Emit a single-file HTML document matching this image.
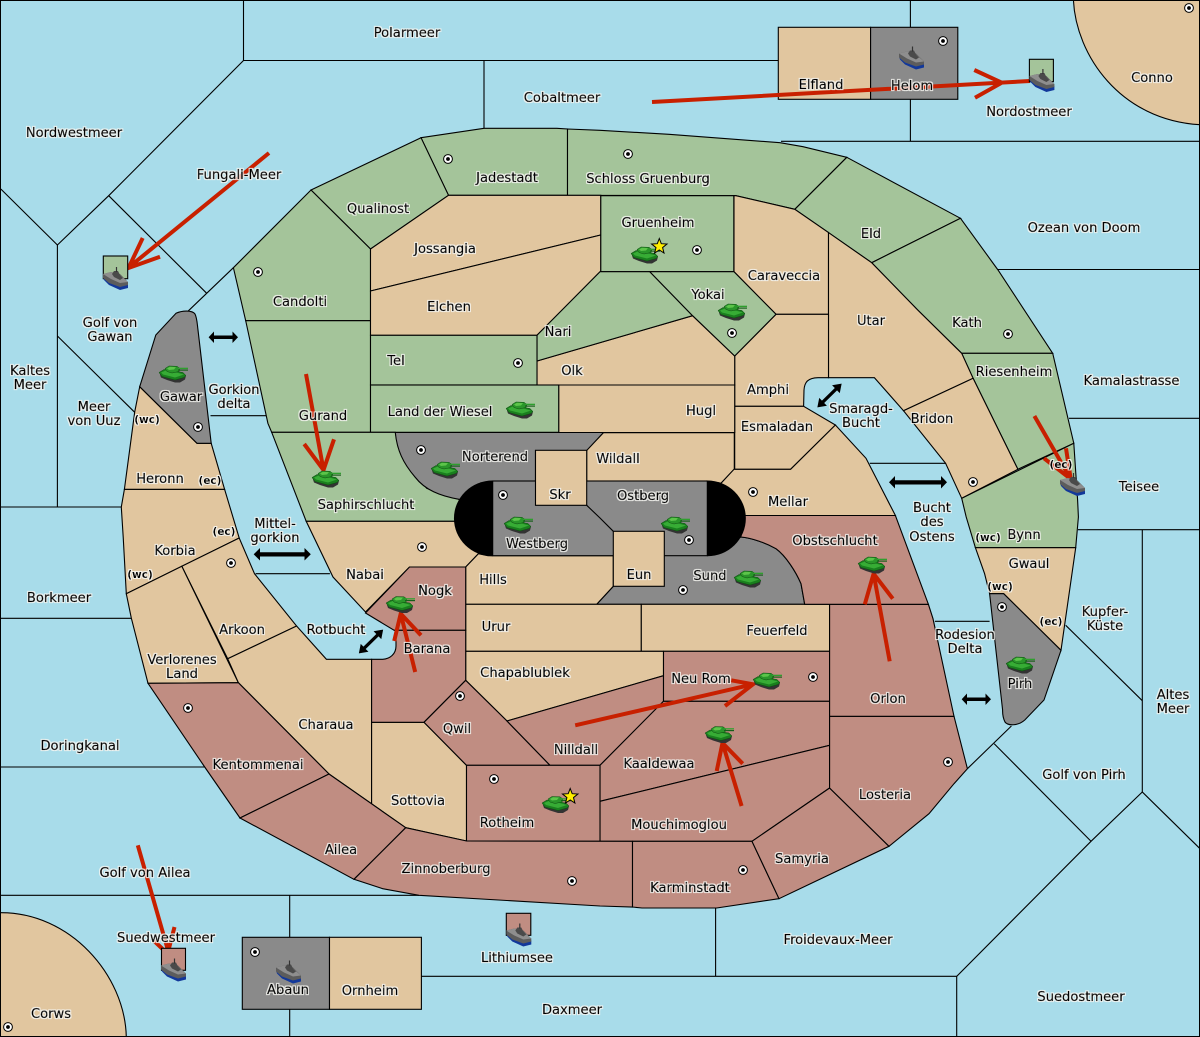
<!DOCTYPE html>
<html><head><meta charset="utf-8"><style>
html,body{margin:0;padding:0;background:#a8dcea}
svg{display:block}
.l{stroke:#000;stroke-width:1.1;stroke-linejoin:miter}
.t{fill:#e1c69f}.g{fill:#a4c49a}.r{fill:#c08d82}.k{fill:#8a8a8a}
.s{fill:none;stroke:#000;stroke-width:1.1}
.a{fill:none;stroke:#c82000;stroke-width:4}
.b{fill:#000;stroke:none}
text{font-family:"DejaVu Sans","Liberation Sans",sans-serif;font-size:13.1px;text-anchor:middle;fill:#000;stroke:#000;stroke-width:.35}
text.m{font-size:10.5px;font-weight:bold;stroke-width:0}
</style></head><body>
<svg xmlns="http://www.w3.org/2000/svg" width="1200" height="1037" viewBox="0 0 1200 1037">
<defs>
<filter id="halo" x="0" y="0" width="1200" height="1037" filterUnits="userSpaceOnUse">
<feMorphology in="SourceAlpha" operator="dilate" radius="1" result="d"/>
<feFlood flood-color="#f6f6f2" flood-opacity=".85"/>
<feComposite in2="d" operator="in" result="h"/>
<feMerge><feMergeNode in="h"/><feMergeNode in="SourceGraphic"/></feMerge>
</filter>
<g id="tank">
<path d="M1,9 L2,12 L8,14.5 L16,17 L21,17 L26,14 L27,10 Z" fill="#333"/>
<path d="M0,7 L5,4 L24,7 L27,10 L25,12 L16,14.5 L3,11 Z" fill="#1a7f1e" stroke="#0e4d10" stroke-width=".5"/>
<path d="M2,7 L8,4.5 L25,9 L16,12 L4,9 Z" fill="#37ac35"/>
<path d="M6,3 L10,0.5 L18,0.8 L21,3 L20,6 L13,7.5 L8,6 Z" fill="#2a962a" stroke="#0e4d10" stroke-width=".5"/>
<path d="M8,3 L11,1.2 L17,1.6 L15,4 L10,4.5 Z" fill="#5cc44a"/>
<rect x="19" y="2.2" width="10" height="1.3" fill="#2f9f2e"/>
<rect x="19" y="4" width="10" height="1.2" fill="#175f1a"/>
</g>
<g id="ship">
<path d="M0,10 L1,13 L6,18 L17,23 L25,21 L25,17 L15,19 L5,14 Z" fill="#12389a"/>
<path d="M0,7 L8,5 L17,7 L25,15 L25,18 L17,20 L6,16 L0,11 Z" fill="#5c5c5c"/>
<path d="M0,7 L8,5 L17,8 L25,15 L17,16 L8,12 Z" fill="#8e8e8e"/>
<path d="M9,7 L11,4 L15,4 L17,8 L20,11 L17,13 L11,10 Z" fill="#4a4a4a"/>
<path d="M13.5,0 V5" stroke="#333" stroke-width="1.2"/>
</g>
<g id="sc">
<circle r="4.4" fill="#fff" stroke="#000" stroke-width="1"/><circle r="1.9" fill="#000"/>
</g>
<path id="dbl" d="M-17,0 L-9,-5.5 V-1.6 H9 V-5.5 L17,0 L9,5.5 V1.6 H-9 V5.5 Z"/>
</defs>
<rect width="1200" height="1037" fill="#a8dcea"/>
<g class="s">
<path d="M243.5,0 V60.5 H778"/>
<path d="M243.5,60.5 L108.7,195.7 L57.4,245 L0.8,189"/>
<path d="M57.4,245 V507"/>
<path d="M108.7,195.7 L206.7,293.3"/>
<path d="M187.5,311.7 L233.4,267.7"/>
<path d="M57.4,336 L134.7,412.3"/>
<path d="M0,507 H121.3"/>
<path d="M484,60.5 V128.3"/>
<path d="M910.4,0 V27 M910.4,99 V141.3"/>
<path d="M781,141.3 H1200"/>
<path d="M998,269.5 H1200"/>
<path d="M1069,418.3 H1200"/>
<path d="M1078,529.7 H1200"/>
<path d="M1142.3,529.7 V792"/>
<path d="M1065.7,625.3 L1142.3,700.7"/>
<path d="M1200,848.7 L1142.3,792 L1091,841.3 L956.7,976.3 V1037"/>
<path d="M994.2,743.7 L1091,841.3"/>
<path d="M1011.4,726 L967.4,768.7"/>
<path d="M715.6,908 V976.3 M421.4,976.3 H956.7"/>
<path d="M0,895.3 H419 M289.7,895.3 V937.3 M289.7,1009.3 V1037"/>
<path d="M0,767 H204.7 M0,618.3 H131.3"/>
<path d="M210.5,415.7 H266 M869.8,463.3 H945.6 M255.6,573.7 H329.9 M934.9,621.3 H989.6"/>
</g>
<path class="t" d="M1073.4,0 C1076,55 1120,120 1200,124.7 V0 Z"/>
<path class="s" d="M1073.4,0 C1076,55 1120,120 1200,124.7"/>
<path class="t" d="M0,912.7 C70,912 125,975 126.3,1037 H0 Z"/>
<path class="s" d="M0,912.7 C70,912 125,975 126.3,1037"/>
<!-- north green -->
<polygon class="l g" points="421,137.7 484,128.3 556.8,128.3 567.5,129 567.5,195.3 448.5,195.3"/>
<polygon class="l g" points="567.5,129 600,130.3 669,134.3 780,142.7 803,146.7 846.8,157.3 794.8,209.3 735.9,195.7 567.5,195.3"/>
<polygon class="l g" points="311,190 421,137.7 448.5,195.3 370.5,249"/>
<polygon class="l g" points="311,190 370.5,249 370.5,320.7 245.7,320.7 233.4,267.7"/>
<polygon class="l g" points="245.7,320.7 370.5,320.7 370.5,432.3 271.7,432.3 267.9,423.3"/>
<polygon class="l g" points="846.8,157.3 960.5,218.3 871.7,262.7 794.8,209.3"/>
<polygon class="l g" points="960.5,218.3 998,270 1052.7,353.3 961.7,353.3 917.7,310 871.7,262.7"/>
<polygon class="l g" points="961.7,353.3 1052.7,353.3 1073.8,443.3 1017.9,469.3 973.1,378.3"/>
<polygon class="l g" points="961.7,498.3 1073.8,443.3 1077.6,500 1078.4,517 1075.7,547.7 975.4,547.7 966.2,517"/>
<!-- tan -->
<polygon class="l t" points="448.5,195.3 600.8,195.3 600.8,235 370.5,291 370.5,249"/>
<polygon class="l t" points="370.5,291 600.8,235 600.8,271.7 537,335.3 370.5,335.3"/>
<polygon class="l t" points="735.9,195.7 794.8,209.3 828.5,232.6 828.5,314.3 776,314.3 734,271.7 734,195.7"/>
<polygon class="l t" points="828.5,232.6 871.7,262.7 917.7,310 961.7,353.3 973.1,378.3 903.5,410.7 874.4,377.7 828.5,377.7"/>
<polygon class="l t" points="973.1,378.3 1017.9,469.3 961.7,498.3 945.6,463.3 903.5,410.7"/>
<path class="l t" d="M734.7,356 L776,314.3 H828.5 V377.7 H818 C808,378 804.5,382 804,390 L803.6,406.3 H734.7 Z"/>
<polygon class="l t" points="734.7,406.3 803.6,406.3 835.4,425 790.6,469.3 734.7,469.3"/>
<polygon class="l t" points="537,361 692.6,315.7 734.7,356 734.7,385 537,385"/>
<polygon class="l t" points="558.7,385 734.7,385 734.7,432.5 558.7,432.5"/>
<polygon class="l t" points="603.3,432.7 734.3,432.7 734.3,469.3 721,483.3 707,481 586.7,481 586.7,450"/>
<polygon class="l t" points="707,481 721,483.3 734,469.3 790.6,469.3 835.4,425 866,458.3 895.4,515.5 707,515.5"/>
<!-- green inner -->
<rect class="l g" x="600.8" y="195.7" width="133" height="76"/>
<polygon class="l g" points="537,335.3 600,271.7 649.8,271.7 692.6,315.7 537,361"/>
<polygon class="l g" points="649.8,271.7 734,271.7 776,314.3 734.7,356 692.6,315.7"/>
<rect class="l g" x="370.5" y="335.3" width="166.5" height="49.7"/>
<rect class="l g" x="370.5" y="385" width="188.2" height="47.3"/>
<polygon class="l g" points="271.7,432.3 395.3,432.3 398,446.7 405.7,463.3 426.7,488.3 459,499.3 480,510 470,521.3 306.2,521.3"/>
<!-- gray inner -->
<path class="l k" d="M395.3,432.5 H603.5 L586.7,450.5 H535.5 V481 H492 L470,499.3 H459 C440,496 425,490 415,477 C403,463 397,450 395.3,432.5 Z"/>
<path class="l k" d="M613.4,586.3 L664.3,555.3 H711 L740.8,537 C752,538 766,543 776,548.7 C786,556 796,572 801,583.7 L804.7,604.3 H596.7 Z"/>
<!-- centre south tan -->
<polygon class="l t" points="306.2,521.3 470,521.3 490,555 478.4,553.7 465.7,567 409.5,567 365.5,612 333,577"/>
<polygon class="l t" points="465.7,567 478.4,553.7 488,555.7 613.3,555.7 613.3,586.3 596.7,604.3 465.7,604.3"/>
<rect class="k" x="492.7" y="481" width="214.6" height="74.7" stroke="#000" stroke-width="1.1"/>
<path class="s" d="M586.7,505.3 L600,518 L613.3,531.3"/>
<rect class="l t" x="465.7" y="604.3" width="175.6" height="47"/>
<rect class="l t" x="641.3" y="604.3" width="188.3" height="47"/>
<polygon class="l t" points="465.7,651.3 663.5,651.3 663.5,675.7 507,721 465.7,680.3"/>
<polygon class="l t" points="124.4,489.3 224.6,489.3 239.2,538 126.3,593.7 123.2,537 121.3,507"/>
<polygon class="l t" points="139.7,386.7 197,443.3 211.2,443.3 224.6,489.3 124.4,489.3 134.7,412"/>
<polygon class="l t" points="181.8,566.3 239.2,538 254.5,573.7 296.6,626 227.7,658.7"/>
<polygon class="l t" points="126.3,593.7 181.8,566.3 238.4,682.7 148,683.3 131.3,618"/>
<polygon class="l t" points="227.7,658.7 296.6,626 326.4,659.3 371.6,659.3 371.6,803.8 329,774 238.4,682.7"/>
<polygon class="l t" points="371.6,722.3 424,722.3 466.5,765.3 466.5,841 405.7,827.7 371.6,803.8"/>
<polygon class="l t" points="975.4,547.7 1075.7,547.7 1061,650.3 1003.7,593.7 989.6,593.7 984.6,573.7"/>
<!-- gray coast -->
<path class="l k" d="M139.7,386.7 L155.8,335 L176,313.3 C182,310.5 192,310 195,314 C197,318 197,322 198,330 L211.2,443.3 H197 Z"/>
<path class="l k" d="M989.6,593.7 H1003.7 L1061,650.3 L1044,700 L1024.8,720 C1018,726 1008,726 1005,722 C1003,718 1002.5,714 1002.6,710 Z"/>
<!-- red -->
<polygon class="l r" points="409.5,567 465.7,567 465.7,630.3 394.2,630.3 365.5,613"/>
<path class="l r" d="M394.2,630.3 H465.7 V680.3 L424,722.3 H371.6 V659.3 H382.7 C390,659 396,654 396,646 V630 Z"/>
<polygon class="l r" points="465.7,680.3 507,721 550,765.3 466.5,765.3 424,722.3"/>
<polygon class="l r" points="507,721 663.5,675.7 663.5,701.3 657.4,707.7 600,765.3 550,765.3"/>
<rect class="l r" x="663.5" y="651.3" width="166.1" height="50"/>
<polygon class="l r" points="663.5,701.3 829.6,701.3 829.6,745.3 600,801.3 600,765.3"/>
<polygon class="l r" points="600,801.3 829.6,745.3 829.6,788 752,841.3 600,841.3"/>
<rect class="l r" x="466.5" y="765.3" width="133.5" height="76"/>
<polygon class="l r" points="148,683.3 238.4,682.7 329,774 240,818 204.7,767"/>
<polygon class="l r" points="240,818 329,774 405.7,827.7 354,879.3"/>
<polygon class="l r" points="405.7,827.7 466.5,841 632.5,841.3 632.5,907 600,906 419,895.3 382.7,888.7 354,879.3"/>
<polygon class="l r" points="632.5,841.3 752,841.3 779,898.7 716.7,908 642,908 632.5,907"/>
<polygon class="l r" points="752,841.3 829.6,788 889,846.3 779,898.7"/>
<polygon class="l r" points="829.6,716.3 954,716.3 967.4,768.7 954,783.7 929,813.7 889,846.3 829.6,788"/>
<polygon class="l r" points="829.6,604.3 928.4,604.3 933,618.7 954,716.3 829.6,716.3"/>
<path class="l r" d="M745,515.5 H895.4 L928.4,604.3 H804.7 L801,583.7 C796,572 786,556 776,548.7 C766,543 752,538 740.8,537 Z"/>
<!-- black ends and inner provinces -->
<path class="b" d="M492.7,480.5 A38.7,37.8 0 0 0 492.7,556.2 Z"/>
<path class="b" d="M707.3,480.5 A38.5,37.8 0 0 1 707.3,556.2 Z"/>
<rect class="l t" x="535.5" y="450.3" width="51.2" height="55"/>
<rect class="l t" x="613.3" y="531.3" width="51" height="55"/>
<!-- boxes -->
<rect class="l t" x="778.3" y="27.3" width="92.3" height="72"/>
<rect class="l k" x="870.6" y="27.3" width="87.2" height="72"/>
<rect class="l k" x="242.3" y="937.3" width="87.2" height="72"/>
<rect class="l t" x="329.5" y="937.3" width="91.9" height="72"/>
<!-- arrows -->
<g class="a">
<path d="M269,153 L128,268 M142.7,238 L128.5,268 L160,256.7"/>
<path d="M306,374 L323.5,470 M304.2,444 L323.5,470 L334,439.3"/>
<path d="M652,102 L1030,81 M974.3,70 L1001.8,82.7 L975,97.7"/>
<path d="M1034.4,416 L1070.7,479 M1044,458.3 L1070.7,479 L1066,448.3"/>
<path d="M137.8,845.3 L167.6,949 M154.2,941 L162.6,949 M174.5,927 L168.8,949"/>
<path d="M415.2,672 L400.7,613.7 M394.2,641 L400.7,613.7 L421,635.3"/>
<path d="M889.7,661.3 L873.6,573.7 M864.8,604.3 L873.6,573.7 L892.8,598.7"/>
<path d="M575.2,725.3 L753,684.3 M731.3,680.3 L753,684.3 L725,706"/>
<path d="M741.6,806 L722.5,743 M716.7,771 L722.5,743 L742.7,763.7"/>
</g>
<!-- fleet boxes -->
<rect class="l g" x="1029.4" y="59.3" width="24" height="22.4"/>
<rect class="l g" x="103.3" y="256" width="24.4" height="22.7"/>
<rect class="l r" x="161.5" y="948.3" width="24" height="22"/>
<rect class="l r" x="506.3" y="913.3" width="24.5" height="22"/>
<!-- double arrows -->
<g class="b">
<path d="M208.6,337.3 L214,331.5 V335.5 H232.5 V331.5 L238,337.3 L232.5,343 V339 H214 V343 Z"/>
<path d="M889,482.3 L895,476 V480.3 H941 V476 L947,482.3 L941,488.5 V484.5 H895 V488.5 Z"/>
<path d="M253.7,554.3 L260,548 V552.3 H304.5 V548 L310.8,554.3 L304.5,560.5 V556.5 H260 V560.5 Z"/>
<path d="M961.7,699.3 L967,693.5 V697.5 H985.5 V693.5 L991,699.3 L985.5,705 V701 H967 V705 Z"/>
<use href="#dbl" transform="translate(371,641.5) rotate(-44.4)"/>
<use href="#dbl" transform="translate(829.5,395.5) rotate(-44.4)"/>
</g>
<!-- ships -->
<use href="#ship" x="103" y="267"/>
<use href="#ship" x="1029.4" y="69"/>
<use href="#ship" x="899" y="46.5"/>
<use href="#ship" x="1060" y="473"/>
<use href="#ship" x="161" y="958.5"/>
<use href="#ship" x="506.3" y="923.5"/>
<use href="#ship" x="276" y="960.5"/>
<!-- tanks -->
<use href="#tank" x="159" y="365.5"/>
<use href="#tank" x="506" y="401.5"/>
<use href="#tank" x="312" y="470.5"/>
<use href="#tank" x="431" y="461.5"/>
<use href="#tank" x="631" y="246.5"/>
<use href="#tank" x="718" y="303.5"/>
<use href="#tank" x="504" y="516.5"/>
<use href="#tank" x="661" y="516.5"/>
<use href="#tank" x="734" y="570.5"/>
<use href="#tank" x="858" y="556.5"/>
<use href="#tank" x="386" y="596"/>
<use href="#tank" x="1006" y="656.5"/>
<use href="#tank" x="753" y="672.5"/>
<use href="#tank" x="705" y="726"/>
<use href="#tank" x="542" y="796"/>
<!-- stars -->
<polygon points="659.3,238.5 661.3,243.7 667,244 662.6,247.6 664,253 659.3,250 654.6,253 656,247.6 651.6,244 657.3,243.7" fill="#ffee00" stroke="#000" stroke-width="1"/>
<polygon points="570.2,788.5 572.2,793.7 577.9,794 573.5,797.6 574.9,803 570.2,800 565.5,803 566.9,797.6 562.5,794 568.2,793.7" fill="#ffee00" stroke="#000" stroke-width="1"/>
<!-- supply centers -->
<use href="#sc" x="943" y="41"/><use href="#sc" x="1189" y="8"/><use href="#sc" x="448" y="159"/><use href="#sc" x="628" y="154"/>
<use href="#sc" x="697" y="250"/><use href="#sc" x="258" y="272"/><use href="#sc" x="518" y="363"/><use href="#sc" x="732" y="333"/>
<use href="#sc" x="1008" y="334"/><use href="#sc" x="198" y="427"/><use href="#sc" x="421" y="450"/><use href="#sc" x="503" y="495"/>
<use href="#sc" x="753" y="492"/><use href="#sc" x="973" y="482"/><use href="#sc" x="689" y="540"/><use href="#sc" x="422" y="547"/>
<use href="#sc" x="231" y="563"/><use href="#sc" x="683" y="590"/><use href="#sc" x="1002" y="607"/><use href="#sc" x="813" y="677"/>
<use href="#sc" x="460" y="696"/><use href="#sc" x="188" y="708"/><use href="#sc" x="948" y="762"/><use href="#sc" x="494" y="779"/>
<use href="#sc" x="743" y="870"/><use href="#sc" x="572" y="881"/><use href="#sc" x="255" y="952"/><use href="#sc" x="8" y="1027"/>
<!-- labels -->
<g filter="url(#halo)">
<text x="407" y="37">Polarmeer</text>
<text x="562" y="102">Cobaltmeer</text>
<text x="74" y="137">Nordwestmeer</text>
<text x="239" y="179">Fungali-Meer</text>
<text x="507" y="182">Jadestadt</text>
<text x="648" y="183">Schloss Gruenburg</text>
<text x="378" y="213">Qualinost</text>
<text x="821" y="89">Elfland</text>
<text x="912" y="90">Helom</text>
<text x="1152" y="82">Conno</text>
<text x="1029" y="116">Nordostmeer</text>
<text x="658" y="227">Gruenheim</text>
<text x="871" y="238">Eld</text>
<text x="1084" y="232">Ozean von Doom</text>
<text x="445" y="253">Jossangia</text>
<text x="784" y="280">Caraveccia</text>
<text x="708" y="299">Yokai</text>
<text x="300" y="306">Candolti</text>
<text x="449" y="311">Elchen</text>
<text x="871" y="325">Utar</text>
<text x="967" y="327">Kath</text>
<text x="110" y="327">Golf von</text>
<text x="110" y="341">Gawan</text>
<text x="558" y="336">Nari</text>
<text x="396" y="365">Tel</text>
<text x="572" y="375">Olk</text>
<text x="30" y="375">Kaltes</text>
<text x="30" y="389">Meer</text>
<text x="1014" y="376">Riesenheim</text>
<text x="1131.5" y="385">Kamalastrasse</text>
<text x="768" y="394">Amphi</text>
<text x="234" y="394">Gorkion</text>
<text x="234" y="408">delta</text>
<text x="181" y="401">Gawar</text>
<text x="701" y="415">Hugl</text>
<text x="440" y="416">Land der Wiesel</text>
<text x="94" y="411">Meer</text>
<text x="94" y="425">von Uuz</text>
<text x="323" y="420">Gurand</text>
<text x="861" y="413">Smaragd-</text>
<text x="861" y="427">Bucht</text>
<text x="932" y="423">Bridon</text>
<text class="m" x="147" y="423">(wc)</text>
<text x="777" y="431">Esmaladan</text>
<text x="495" y="461">Norterend</text>
<text x="618" y="463">Wildall</text>
<text class="m" x="1061" y="468">(ec)</text>
<text x="160" y="483">Heronn</text>
<text class="m" x="210" y="484">(ec)</text>
<text x="1139" y="491">Teisee</text>
<text x="560" y="499">Skr</text>
<text x="643" y="500">Ostberg</text>
<text x="788" y="506">Mellar</text>
<text x="366" y="509">Saphirschlucht</text>
<text x="932" y="512">Bucht</text>
<text x="932" y="526">des</text>
<text x="932" y="541">Ostens</text>
<text x="275" y="528">Mittel-</text>
<text x="275" y="542">gorkion</text>
<text x="1024" y="539">Bynn</text>
<text class="m" x="988" y="541">(wc)</text>
<text class="m" x="224" y="535">(ec)</text>
<text x="175" y="555">Korbia</text>
<text x="835" y="545">Obstschlucht</text>
<text x="537" y="548">Westberg</text>
<text x="1029" y="568">Gwaul</text>
<text class="m" x="140" y="578">(wc)</text>
<text x="365" y="579">Nabai</text>
<text x="493" y="584">Hills</text>
<text x="639" y="579">Eun</text>
<text x="710" y="580">Sund</text>
<text class="m" x="1000" y="590">(wc)</text>
<text x="435" y="595">Nogk</text>
<text x="59" y="602">Borkmeer</text>
<text x="1105" y="616">Kupfer-</text>
<text x="1105" y="630">Küste</text>
<text class="m" x="1051" y="625">(ec)</text>
<text x="496" y="631">Urur</text>
<text x="777" y="635">Feuerfeld</text>
<text x="242" y="634">Arkoon</text>
<text x="336" y="634">Rotbucht</text>
<text x="965" y="639">Rodesion</text>
<text x="965" y="653">Delta</text>
<text x="427" y="653">Barana</text>
<text x="182" y="664">Verlorenes</text>
<text x="182" y="678">Land</text>
<text x="525" y="677">Chapablublek</text>
<text x="701" y="683">Neu Rom</text>
<text x="1020" y="688">Pirh</text>
<text x="1173" y="699">Altes</text>
<text x="1173" y="713">Meer</text>
<text x="888" y="703">Orlon</text>
<text x="326" y="729">Charaua</text>
<text x="457" y="733">Qwil</text>
<text x="80" y="750">Doringkanal</text>
<text x="576" y="754">Nilldall</text>
<text x="659" y="768">Kaaldewaa</text>
<text x="258" y="769">Kentommenai</text>
<text x="1084" y="779">Golf von Pirh</text>
<text x="885" y="799">Losteria</text>
<text x="418" y="805">Sottovia</text>
<text x="507" y="827">Rotheim</text>
<text x="679" y="829">Mouchimoglou</text>
<text x="341" y="854">Ailea</text>
<text x="802" y="863">Samyria</text>
<text x="446" y="873">Zinnoberburg</text>
<text x="145" y="877">Golf von Ailea</text>
<text x="690" y="892">Karminstadt</text>
<text x="838" y="944">Froidevaux-Meer</text>
<text x="166" y="942">Suedwestmeer</text>
<text x="517" y="962">Lithiumsee</text>
<text x="288" y="994">Abaun</text>
<text x="370" y="995">Ornheim</text>
<text x="1081" y="1001">Suedostmeer</text>
<text x="572" y="1014">Daxmeer</text>
<text x="51" y="1018">Corws</text>
</g>
<rect x="0.5" y="0.5" width="1199" height="1036" fill="none" stroke="#000" stroke-width="1"/>
</svg>
</body></html>
